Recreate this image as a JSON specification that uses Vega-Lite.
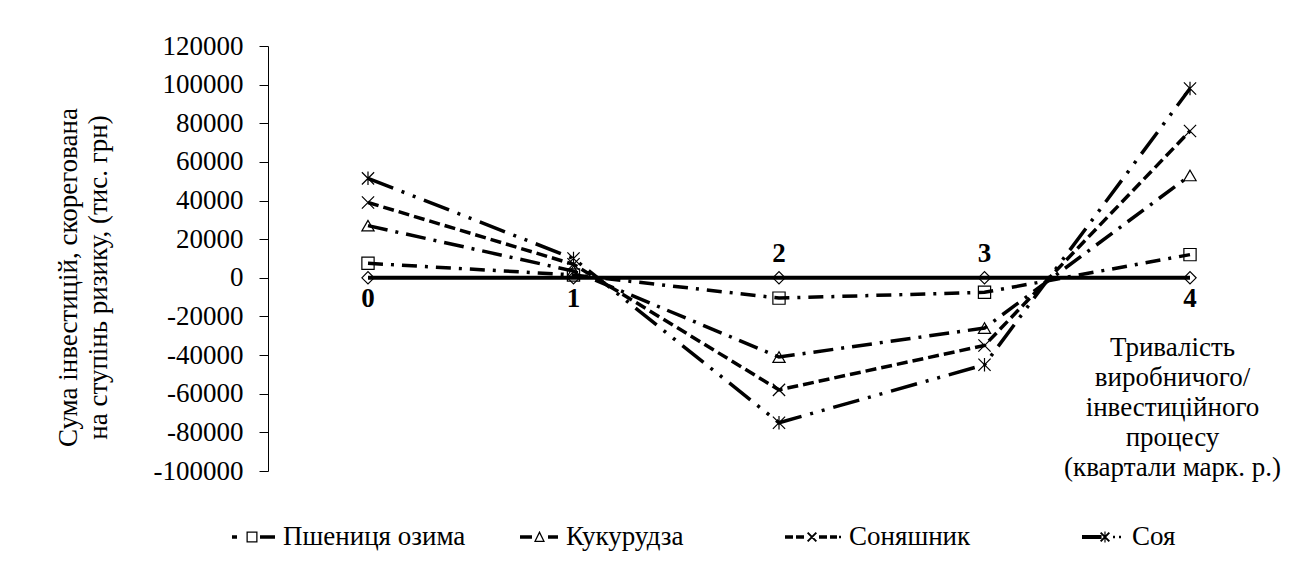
{
  "$schema": "https://vega.github.io/schema/vega-lite/v6.json",
  "width": 1022,
  "height": 425,
  "autosize": {"type": "none"},
  "padding": {"left": 268, "top": 46, "right": 1, "bottom": 98},
  "background": "white",
  "config": {
    "view": {"stroke": null},
    "font": "Liberation Serif"
  },
  "datasets": {
    "series": [
      {"period": 0, "value": 7500, "crop": "Пшениця озима"},
      {"period": 1, "value": 1500, "crop": "Пшениця озима"},
      {"period": 2, "value": -10500, "crop": "Пшениця озима"},
      {"period": 3, "value": -7500, "crop": "Пшениця озима"},
      {"period": 4, "value": 12000, "crop": "Пшениця озима"},
      {"period": 0, "value": 27000, "crop": "Кукурудза"},
      {"period": 1, "value": 3500, "crop": "Кукурудза"},
      {"period": 2, "value": -41000, "crop": "Кукурудза"},
      {"period": 3, "value": -26000, "crop": "Кукурудза"},
      {"period": 4, "value": 53000, "crop": "Кукурудза"},
      {"period": 0, "value": 39000, "crop": "Соняшник"},
      {"period": 1, "value": 7000, "crop": "Соняшник"},
      {"period": 2, "value": -58000, "crop": "Соняшник"},
      {"period": 3, "value": -35000, "crop": "Соняшник"},
      {"period": 4, "value": 76000, "crop": "Соняшник"},
      {"period": 0, "value": 51500, "crop": "Соя"},
      {"period": 1, "value": 10000, "crop": "Соя"},
      {"period": 2, "value": -75000, "crop": "Соя"},
      {"period": 3, "value": -45000, "crop": "Соя"},
      {"period": 4, "value": 98000, "crop": "Соя"}
    ],
    "baseline": [
      {"period": 0, "value": 0},
      {"period": 1, "value": 0},
      {"period": 2, "value": 0},
      {"period": 3, "value": 0},
      {"period": 4, "value": 0}
    ],
    "labels": [
      {"period": 0, "label": "0"},
      {"period": 1, "label": "1"},
      {"period": 2, "label": "2"},
      {"period": 3, "label": "3"},
      {"period": 4, "label": "4"}
    ]
  },
  "resolve": {"scale": {"shape": "independent"}, "legend": {"shape": "independent"}},
  "layer": [
    {
      "data": {"name": "baseline"},
      "mark": {"type": "line", "color": "black", "strokeWidth": 4},
      "encoding": {
        "x": {
          "field": "period", "type": "quantitative",
          "scale": {"domain": [-0.4866, 4.4866], "nice": false, "zero": false},
          "axis": {
            "title": ["Тривалість", "виробничого/", "інвестиційного", "процесу", "(квартали марк. р.)"],
            "titleFont": "Liberation Serif", "titleFontSize": 27, "titleFontWeight": "normal", "titleColor": "black",
            "titleX": 904, "titleY": -124, "titleAlign": "center", "titleBaseline": "middle", "titleLineHeight": 30, "titleAngle": 0,
            "labels": false, "ticks": false, "domain": false, "grid": false
          }
        },
        "y": {
          "field": "value", "type": "quantitative",
          "scale": {"domain": [-100000, 120000], "nice": false, "zero": false},
          "axis": {
            "title": ["Сума інвестицій, скорегована", "на ступінь ризику, (тис. грн)"],
            "titleFont": "Liberation Serif", "titleFontSize": 27, "titleFontWeight": "normal", "titleColor": "black",
            "titleAngle": -90, "titleX": -200, "titleY": 231, "titleAlign": "center", "titleBaseline": "middle", "titleLineHeight": 30,
            "values": [-100000, -80000, -60000, -40000, -20000, 0, 20000, 40000, 60000, 80000, 100000, 120000],
            "tickCount": 20,
            "labelExpr": "datum.value < 0 ? '-' + format(-datum.value, 'd') : format(datum.value, 'd')",
            "labelFont": "Liberation Serif", "labelFontSize": 27, "labelColor": "black",
            "labelPadding": 16, "tickSize": 9, "tickColor": "black", "domainColor": "black", "grid": false,
            "labelFlush": false, "labelOverlap": false
          }
        }
      }
    },
    {
      "data": {"name": "series"},
      "mark": {"type": "line", "color": "black", "strokeWidth": 3.5, "strokeCap": "butt"},
      "encoding": {
        "x": {"field": "period", "type": "quantitative"},
        "y": {"field": "value", "type": "quantitative"},
        "strokeDash": {
          "field": "crop", "type": "nominal",
          "scale": {
            "domain": ["Пшениця озима", "Кукурудза", "Соняшник", "Соя"],
            "range": [[15, 8, 3, 8], [20, 8, 3, 8], [11, 5], [27, 9, 3, 9, 3, 9]]
          },
          "legend": null
        }
      }
    },
    {
      "data": {"name": "baseline"},
      "mark": {"type": "point", "shape": "diamond", "filled": false, "color": "black", "strokeWidth": 1.2, "size": 150, "opacity": 1},
      "encoding": {
        "x": {"field": "period", "type": "quantitative"},
        "y": {"field": "value", "type": "quantitative"}
      }
    },
    {
      "data": {"name": "series"},
      "mark": {"type": "point", "filled": false, "color": "black", "strokeWidth": 1.2, "size": 150, "opacity": 1},
      "encoding": {
        "x": {"field": "period", "type": "quantitative"},
        "y": {"field": "value", "type": "quantitative"},
        "shape": {
          "field": "crop", "type": "nominal",
          "scale": {
            "domain": ["Пшениця озима", "Кукурудза", "Соняшник", "Соя"],
            "range": ["square", "triangle-up", "M-1,-1L1,1M-1,1L1,-1", "M-1,-1L1,1M-1,1L1,-1M0,-1.1L0,1.1"]
          },
          "legend": null
        }
      }
    },
    {
      "data": {"name": "series"},
      "mark": {"type": "point", "filled": true, "color": "black", "opacity": 0, "strokeWidth": 0, "size": 10},
      "encoding": {
        "x": {"field": "period", "type": "quantitative"},
        "y": {"field": "value", "type": "quantitative"},
        "shape": {
          "field": "crop", "type": "nominal",
          "scale": {
            "domain": ["Пшениця озима", "Кукурудза", "Соняшник", "Соя"],
            "range": [
              "M-0.536,-0.0625H-0.357V0.0625H-0.536Z M-0.018,-0.196H0.375V0.196H-0.018Z M0.027,-0.151V0.151H0.33V-0.151Z M0.464,-0.0625H1V0.0625H0.464Z",
              "M-0.357,-0.0625H0.071V0.0625H-0.357Z M0.339,-0.22L0.535,0.18L0.143,0.18Z M0.339,-0.12L0.214,0.135L0.464,0.135Z M0.643,-0.0625H1V0.0625H0.643Z",
              "M-1,-0.0625H-0.714V0.0625H-1Z M-0.607,-0.0625H-0.321V0.0625H-0.607Z M-0.166,-0.18L0.144,0.13L0.094,0.18L-0.216,-0.13Z M0.144,-0.13L-0.166,0.18L-0.216,0.13L0.094,-0.18Z M0.214,-0.0625H0.5V0.0625H0.214Z M0.607,-0.0625H0.857V0.0625H0.607Z M0.929,-0.045H1V0.045H0.929Z",
              "M-0.5,-0.07H0.2V0.07H-0.5Z M0.191,-0.18L0.501,0.13L0.451,0.18L0.141,-0.13Z M0.501,-0.13L0.191,0.18L0.141,0.13L0.451,-0.18Z M0.3,-0.2H0.342V0.2H0.3Z M0.607,-0.045H0.679V0.045H0.607Z M0.821,-0.045H0.893V0.045H0.821Z"
            ]
          },
          "legend": {
            "title": null, "orient": "none", "legendX": -49, "legendY": 463, "direction": "horizontal",
            "padding": 0, "columnPadding": 36, "gridAlign": "all", "labelOffset": 8, "labelLimit": 0,
            "labelFont": "Liberation Serif", "labelFontSize": 27, "labelColor": "black",
            "symbolSize": 3136, "symbolFillColor": "black", "symbolStrokeWidth": 0, "symbolOpacity": 1,
            "symbolLimit": 0
          }
        }
      }
    },
    {
      "data": {"name": "labels"},
      "transform": [{"filter": "datum.period != 2 && datum.period != 3"}],
      "mark": {"type": "text", "font": "Liberation Serif", "fontSize": 27, "fontWeight": "bold", "color": "black", "baseline": "middle", "align": "center", "dy": 21},
      "encoding": {
        "x": {"field": "period", "type": "quantitative"},
        "y": {"datum": 0},
        "text": {"field": "label"}
      }
    },
    {
      "data": {"name": "labels"},
      "transform": [{"filter": "datum.period == 2 || datum.period == 3"}],
      "mark": {"type": "text", "font": "Liberation Serif", "fontSize": 27, "fontWeight": "bold", "color": "black", "baseline": "middle", "align": "center", "dy": -24},
      "encoding": {
        "x": {"field": "period", "type": "quantitative"},
        "y": {"datum": 0},
        "text": {"field": "label"}
      }
    }
  ]
}
